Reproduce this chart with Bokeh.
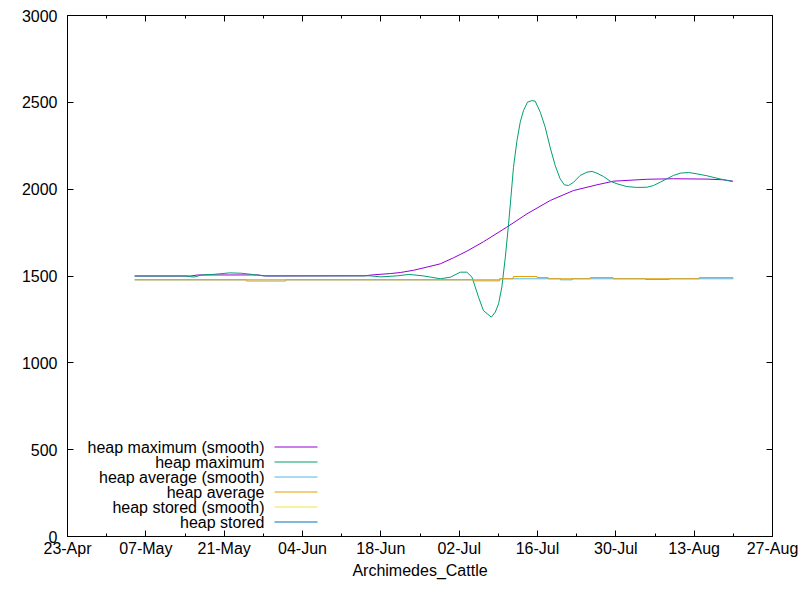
import pandas as pd
from datetime import timedelta
from bokeh.plotting import figure
from bokeh.models import (Range1d, FixedTicker, DatetimeTickFormatter, LinearAxis,
                          DatetimeAxis, Label, Arrow, CustomLabelingPolicy)
from bokeh.embed import file_html
from bokeh.resources import INLINE

# ---------------- data ----------------
x_title = "Archimedes_Cattle"
x_start, x_end = "2013-04-23", "2013-08-27"
y_ticks = [0, 500, 1000, 1500, 2000, 2500, 3000]

# heap maximum (smooth)
max_smooth_dates = ["2013-05-05", "2013-05-15", "2013-05-16 06:00", "2013-05-27", "2013-05-28 12:00",
                    "2013-06-15", "2013-06-16 17:00", "2013-06-19 17:00", "2013-06-21 12:00",
                    "2013-06-23 20:00", "2013-06-26 05:00", "2013-06-28 15:00", "2013-07-01",
                    "2013-07-03 09:00", "2013-07-06 08:00", "2013-07-10 12:00",
                    "2013-07-14 03:00", "2013-07-18 07:00", "2013-07-22 10:00", "2013-07-26 15:00",
                    "2013-07-29 14:00", "2013-08-04 13:00", "2013-08-09 07:00", "2013-08-15 07:00",
                    "2013-08-18 05:00", "2013-08-19 22:00"]
max_smooth_vals = [1500, 1500, 1506, 1506, 1500,
                   1501, 1507, 1514, 1520,
                   1533, 1551, 1570, 1605,
                   1643, 1697, 1781,
                   1858, 1935, 1992, 2025,
                   2046, 2057, 2060, 2058,
                   2054, 2046]

# heap maximum
max_dates = ["2013-05-05", "2013-05-14", "2013-05-15 15:00", "2013-05-17", "2013-05-19",
             "2013-05-22", "2013-05-24", "2013-05-26", "2013-05-28", "2013-06-16",
             "2013-06-18", "2013-06-21", "2013-06-23", "2013-06-25 12:00", "2013-06-27",
             "2013-06-28 15:00", "2013-06-30 10:00", "2013-07-02 05:00", "2013-07-03 09:00",
             "2013-07-04 07:00", "2013-07-04 21:00", "2013-07-05 11:00", "2013-07-06 08:00",
             "2013-07-07 18:00", "2013-07-08 11:00", "2013-07-09 01:00", "2013-07-09 15:00",
             "2013-07-10 06:00", "2013-07-10 20:00", "2013-07-11 06:00", "2013-07-11 17:00",
             "2013-07-12 08:00", "2013-07-12 22:00", "2013-07-13 12:00", "2013-07-14 05:00",
             "2013-07-15 00:00", "2013-07-15 14:00", "2013-07-16 12:00", "2013-07-17 09:00",
             "2013-07-18 06:00", "2013-07-19 04:00", "2013-07-20 01:00", "2013-07-20 19:00",
             "2013-07-21 13:00", "2013-07-22 11:00", "2013-07-23 15:00", "2013-07-24 20:00",
             "2013-07-25 18:00", "2013-07-26 15:00", "2013-07-27 19:00", "2013-07-29 00:00",
             "2013-07-30 05:00", "2013-07-31 23:00", "2013-08-02 18:00", "2013-08-04 13:00",
             "2013-08-05 18:00", "2013-08-06 22:00", "2013-08-08 03:00", "2013-08-09 07:00",
             "2013-08-10 12:00", "2013-08-12 00:00", "2013-08-13 12:00", "2013-08-15 07:00",
             "2013-08-17 02:00", "2013-08-18 21:00", "2013-08-19 22:00"]
max_vals = [1500, 1500, 1494, 1506, 1509,
            1518, 1516, 1509, 1501, 1501,
            1495, 1501, 1509, 1501, 1493,
            1484, 1493, 1522, 1522,
            1493, 1436, 1378, 1301,
            1263, 1292, 1340, 1436,
            1608, 1800, 1954, 2126,
            2280, 2386, 2453, 2501,
            2510, 2507, 2443, 2357,
            2242, 2136, 2060, 2025,
            2021, 2040, 2079, 2098,
            2102, 2092, 2073, 2046,
            2031, 2015, 2010, 2011,
            2021, 2040, 2060, 2079,
            2092, 2096, 2088, 2077,
            2063, 2050, 2044]

# heap average (smooth)  (step-wise levels)
avg_smooth_dates = ["2013-05-05", "2013-07-09 06:00", "2013-07-20 02:00", "2013-07-22 05:00",
                    "2013-08-04 07:00", "2013-08-08 12:00", "2013-08-20"]
avg_smooth_vals = [1478, 1484, 1478, 1484, 1480, 1484, 1484]

# heap average  (step-wise levels)
avg_dates = ["2013-05-05", "2013-05-25", "2013-06-01", "2013-07-04 12:00", "2013-07-09 06:00",
             "2013-07-11 16:00", "2013-07-15 22:00", "2013-07-17 22:00", "2013-07-25 10:00",
             "2013-07-29 12:00", "2013-08-13 22:00", "2013-08-20"]
avg_vals = [1478, 1471, 1478, 1472, 1484,
            1497, 1491, 1484, 1491,
            1484, 1491, 1491]

# heap stored (smooth) and heap stored: no visible data
stored_smooth_dates, stored_smooth_vals = [], []
stored_dates, stored_vals = [], []

legend_labels = ["heap maximum (smooth)", "heap maximum", "heap average (smooth)",
                 "heap average", "heap stored (smooth)", "heap stored"]
colors = ["#9400d3", "#009e73", "#56b4e9", "#e69f00", "#f0e442", "#0072b2"]

# ---------------- figure ----------------
FONT = "Liberation Sans"
FS = "16px"

def dt(lst):
    return list(pd.to_datetime(lst, format="mixed"))

p = figure(width=800, height=600, output_backend="svg", toolbar_location=None,
           x_axis_type="datetime",
           x_range=Range1d(pd.Timestamp(x_start), pd.Timestamp(x_end)),
           y_range=Range1d(0, 3000),
           min_border_left=67, min_border_right=28, min_border_top=15, min_border_bottom=64)
p.frame_width = 705
p.frame_height = 521
p.grid.visible = False
p.outline_line_color = "black"
p.outline_line_width = 1
p.background_fill_color = "white"
p.border_fill_color = "white"

tick_dates = pd.date_range(x_start, x_end, freq="14D")
minor_dates = pd.date_range(pd.Timestamp(x_start) + timedelta(days=7), x_end, freq="14D")
xt = FixedTicker(ticks=[t.value / 1e6 for t in tick_dates],
                 minor_ticks=[t.value / 1e6 for t in minor_dates])
yt = FixedTicker(ticks=y_ticks, minor_ticks=[])
fmt = DatetimeTickFormatter(days="%d-%b", months="%d-%b", years="%d-%b", hours="%d-%b",
                            minutes="%d-%b", seconds="%d-%b", milliseconds="%d-%b",
                            microseconds="%d-%b", context=None)

xa = p.xaxis[0]
xa.ticker = xt
xa.formatter = fmt
ya = p.yaxis[0]
ya.ticker = yt

for ax in (xa, ya):
    ax.major_tick_in = 6
    ax.major_tick_out = 0
    ax.minor_tick_in = 3
    ax.minor_tick_out = 0
    ax.axis_line_color = "black"
    ax.major_tick_line_color = "black"
    ax.minor_tick_line_color = "black"
    ax.major_label_text_font = FONT
    ax.major_label_text_font_size = FS
    ax.major_label_text_color = "black"
xa.major_label_standoff = 3
ya.major_label_standoff = 10
xa.axis_label = x_title
xa.axis_label_text_font = FONT
xa.axis_label_text_font_size = FS
xa.axis_label_text_font_style = "normal"
xa.axis_label_text_color = "black"
xa.axis_label_standoff = 2

# mirrored ticks on top and right (labels suppressed)
hide_all = CustomLabelingPolicy(code="""
for (let i = 0; i < indices.size; i++) { indices.unset(i) }
return indices
""")
top = DatetimeAxis(ticker=xt, formatter=fmt)
right = LinearAxis(ticker=yt)
for ax in (top, right):
    ax.major_tick_in = 6
    ax.major_tick_out = 0
    ax.minor_tick_in = 3
    ax.minor_tick_out = 0
    ax.axis_line_color = None
    ax.major_tick_line_color = "black"
    ax.minor_tick_line_color = "black"
    ax.major_label_text_font_size = "1px"
    ax.major_label_standoff = 0
    ax.major_label_policy = hide_all
p.add_layout(top, "above")
p.add_layout(right, "right")

# ---------------- series ----------------
p.line(dt(max_smooth_dates), max_smooth_vals, line_color=colors[0], line_width=1)
p.line(dt(max_dates), max_vals, line_color=colors[1], line_width=1)
p.step(dt(avg_smooth_dates), avg_smooth_vals, mode="after", line_color=colors[2], line_width=1)
p.step(dt(avg_dates), avg_vals, mode="after", line_color=colors[3], line_width=1)
p.line(dt(stored_smooth_dates), stored_smooth_vals, line_color=colors[4], line_width=1)
p.line(dt(stored_dates), stored_vals, line_color=colors[5], line_width=1)

# ---------------- gnuplot-style key (text right, sample to its right) ----------------
key_text_right = 197
key_sample_x0, key_sample_x1 = 207, 250
key_row_top, key_dy = 89.5, 15
for i, (lab, col) in enumerate(zip(legend_labels, colors)):
    yy = key_row_top - i * key_dy
    p.add_layout(Label(x=key_text_right, y=yy, x_units="screen", y_units="screen",
                       text=lab, text_align="right", text_baseline="middle",
                       text_font=FONT, text_font_size=FS, text_color="black"))
    p.add_layout(Arrow(x_start=key_sample_x0, y_start=yy, x_end=key_sample_x1, y_end=yy,
                       start_units="screen", end_units="screen", end=None,
                       line_color=col, line_width=1))

open("out.html", "w").write(file_html(p, INLINE))
